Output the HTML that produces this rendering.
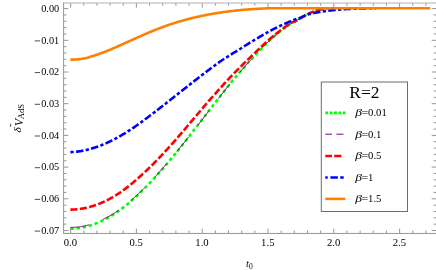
<!DOCTYPE html>
<html><head><meta charset="utf-8"><title>plot</title>
<style>
html,body{margin:0;padding:0;background:#fff;}
body{width:436px;height:270px;overflow:hidden;font-family:"Liberation Serif",serif;}
svg{display:block;will-change:transform;}
text{font-family:"Liberation Serif",serif;fill:#000;}
</style></head><body>
<svg width="436" height="270" viewBox="0 0 436 270">
<rect x="0" y="0" width="436" height="270" fill="#fff"/>
<defs><clipPath id="c"><rect x="63.6" y="3.0" width="372.7" height="230.3"/></clipPath></defs>
<g clip-path="url(#c)" fill="none" stroke-linecap="butt" stroke-linejoin="round">
<path d="M70.40,228.66 L71.05,228.65 L71.70,228.64 L72.34,228.62 L72.99,228.60 L73.64,228.58 L74.29,228.54 L74.94,228.50 L75.58,228.45 L76.23,228.39 L76.88,228.33 L77.53,228.27 L78.18,228.19 L78.83,228.11 L79.47,228.03 L80.12,227.93 L80.77,227.82 L81.42,227.70 L82.07,227.58 L82.71,227.45 L83.36,227.32 L84.01,227.17 L84.66,227.03 L85.31,226.87 L85.95,226.71 L86.60,226.55 L87.25,226.37 L87.90,226.20 L88.55,226.01 L89.20,225.82 L89.84,225.62 L90.49,225.42 L91.14,225.21 L91.79,225.00 L92.44,224.78 L93.08,224.55 L93.73,224.31 L94.38,224.07 L95.03,223.83 L95.68,223.58 L96.32,223.32 L96.97,223.05 L97.62,222.79 L98.27,222.51 L98.92,222.23 L99.57,221.94 L100.21,221.65 L100.86,221.36 L101.51,221.06 L102.16,220.76 L102.81,220.45 L103.45,220.13 L104.10,219.81 L104.75,219.48 L105.40,219.15 L106.05,218.81 L106.69,218.47 L107.34,218.11 L107.99,217.76 L108.64,217.39 L109.29,217.02 L109.94,216.65 L110.58,216.27 L111.23,215.88 L111.88,215.48 L112.53,215.08 L113.18,214.68 L113.82,214.27 L114.47,213.85 L115.12,213.42 L115.77,213.00 L116.42,212.56 L117.06,212.12 L117.71,211.67 L118.36,211.22 L119.01,210.76 L119.66,210.29 L120.31,209.82 L120.95,209.34 L121.60,208.85 L122.25,208.36 L122.90,207.86 L123.55,207.35 L124.19,206.84 L124.84,206.33 L125.49,205.81 L126.14,205.28 L126.79,204.75 L127.43,204.21 L128.08,203.67 L128.73,203.13 L129.38,202.57 L130.03,202.02 L130.68,201.46 L131.32,200.89 L131.97,200.32 L132.62,199.74 L133.27,199.16 L133.92,198.58 L134.56,197.98 L135.21,197.39 L135.86,196.79 L136.51,196.19 L137.16,195.58 L137.80,194.96 L138.45,194.34 L139.10,193.72 L139.75,193.10 L140.40,192.47 L141.05,191.84 L141.69,191.21 L142.34,190.58 L142.99,189.94 L143.64,189.30 L144.29,188.65 L144.93,188.00 L145.58,187.35 L146.23,186.69 L146.88,186.03 L147.53,185.36 L148.17,184.69 L148.82,184.01 L149.47,183.34 L150.12,182.65 L150.77,181.97 L151.42,181.28 L152.06,180.59 L152.71,179.89 L153.36,179.19 L154.01,178.49 L154.66,177.78 L155.30,177.07 L155.95,176.36 L156.60,175.64 L157.25,174.92 L157.90,174.20 L158.54,173.48 L159.19,172.75 L159.84,172.01 L160.49,171.28 L161.14,170.54 L161.78,169.80 L162.43,169.05 L163.08,168.31 L163.73,167.56 L164.38,166.81 L165.03,166.05 L165.67,165.29 L166.32,164.53 L166.97,163.77 L167.62,163.00 L168.27,162.23 L168.91,161.46 L169.56,160.69 L170.21,159.91 L170.86,159.14 L171.51,158.36 L172.15,157.57 L172.80,156.79 L173.45,156.00 L174.10,155.21 L174.75,154.42 L175.40,153.63 L176.04,152.83 L176.69,152.03 L177.34,151.23 L177.99,150.43 L178.64,149.63 L179.28,148.83 L179.93,148.02 L180.58,147.21 L181.23,146.40 L181.88,145.59 L182.52,144.77 L183.17,143.96 L183.82,143.14 L184.47,142.33 L185.12,141.51 L185.77,140.69 L186.41,139.86 L187.06,139.04 L187.71,138.22 L188.36,137.39 L189.01,136.56 L189.65,135.73 L190.30,134.91 L190.95,134.08 L191.60,133.24 L192.25,132.41 L192.89,131.58 L193.54,130.74 L194.19,129.91 L194.84,129.07 L195.49,128.24 L196.14,127.40 L196.78,126.56 L197.43,125.72 L198.08,124.89 L198.73,124.05 L199.38,123.21 L200.02,122.37 L200.67,121.52 L201.32,120.68 L201.97,119.84 L202.62,119.00 L203.26,118.16 L203.91,117.32 L204.56,116.47 L205.21,115.63 L205.86,114.79 L206.51,113.95 L207.15,113.11 L207.80,112.26 L208.45,111.42 L209.10,110.58 L209.75,109.74 L210.39,108.90 L211.04,108.06 L211.69,107.22 L212.34,106.38 L212.99,105.54 L213.63,104.70 L214.28,103.86 L214.93,103.03 L215.58,102.19 L216.23,101.35 L216.88,100.52 L217.52,99.68 L218.17,98.85 L218.82,98.02 L219.47,97.19 L220.12,96.36 L220.76,95.53 L221.41,94.70 L222.06,93.88 L222.71,93.05 L223.36,92.23 L224.00,91.40 L224.65,90.58 L225.30,89.76 L225.95,88.94 L226.60,88.13 L227.25,87.31 L227.89,86.50 L228.54,85.69 L229.19,84.88 L229.84,84.07 L230.49,83.28 L231.13,82.49 L231.78,81.71 L232.43,80.93 L233.08,80.16 L233.73,79.38 L234.37,78.61 L235.02,77.83 L235.67,77.07 L236.32,76.30 L236.97,75.53 L237.62,74.77 L238.26,74.01 L238.91,73.26 L239.56,72.50 L240.21,71.75 L240.86,71.00 L241.50,70.25 L242.15,69.51 L242.80,68.77 L243.45,68.03 L244.10,67.29 L244.74,66.56 L245.39,65.83 L246.04,65.10 L246.69,64.38 L247.34,63.66 L247.98,62.94 L248.63,62.23 L249.28,61.51 L249.93,60.81 L250.58,60.10 L251.23,59.40 L251.87,58.70 L252.52,58.01 L253.17,57.32 L253.82,56.63 L254.47,55.95 L255.11,55.26 L255.76,54.56 L256.41,53.85 L257.06,53.15 L257.71,52.46 L258.35,51.76 L259.00,51.08 L259.65,50.39 L260.30,49.71 L260.95,49.04 L261.60,48.36 L262.24,47.70 L262.89,47.03 L263.54,46.37 L264.19,45.72 L264.84,45.07 L265.48,44.42 L266.13,43.78 L266.78,43.15 L267.43,42.52 L268.08,41.91 L268.72,41.31 L269.37,40.70 L270.02,40.11 L270.67,39.51 L271.32,38.93 L271.97,38.34 L272.61,37.77 L273.26,37.19 L273.91,36.62 L274.56,36.06 L275.21,35.51 L275.85,34.95 L276.50,34.41 L277.15,33.87 L277.80,33.33 L278.45,32.80 L279.09,32.27 L279.74,31.75 L280.39,31.23 L281.04,30.70 L281.69,30.18 L282.34,29.66 L282.98,29.15 L283.63,28.65 L284.28,28.15 L284.93,27.66 L285.58,27.17 L286.22,26.69 L286.87,26.22 L287.52,25.75 L288.17,25.29 L288.82,24.83 L289.46,24.38 L290.11,23.92 L290.76,23.45 L291.41,23.00 L292.06,22.61 L292.71,22.28 L293.35,22.02 L294.00,21.78 L294.65,21.54 L295.30,21.24 L295.95,20.91 L296.59,20.55 L297.24,20.18 L297.89,19.78 L298.54,19.39 L299.19,18.99 L299.83,18.61 L300.48,18.23 L301.13,17.85 L301.78,17.46 L302.43,17.07 L303.08,16.68 L303.72,16.29 L304.37,15.91 L305.02,15.53 L305.67,15.16 L306.32,14.81 L306.96,14.47 L307.61,14.15 L308.26,13.83 L308.91,13.52 L309.56,13.22 L310.20,12.93 L310.85,12.64 L311.50,12.37 L312.15,12.10 L312.80,11.84 L313.45,11.60 L314.09,11.36 L314.74,11.14 L315.39,10.93 L316.04,10.72 L316.69,10.52 L317.33,10.33 L317.98,10.14 L318.63,9.96 L319.28,9.78 L319.93,9.59 L320.57,9.42 L321.22,9.24 L321.87,9.07 L322.52,8.91 L323.17,8.76 L323.82,8.63 L324.46,8.52 L325.11,8.40 L325.76,8.30 L326.41,8.22 L327.06,8.20 L327.70,8.20 L328.35,8.20 L329.00,8.20" stroke="#00ff00" stroke-width="2.6" stroke-dasharray="3.4 2.8"/>
<path d="M70.40,227.36 L71.05,227.36 L71.70,227.35 L72.34,227.34 L72.99,227.33 L73.64,227.31 L74.29,227.28 L74.94,227.24 L75.58,227.20 L76.23,227.15 L76.88,227.10 L77.53,227.04 L78.18,226.97 L78.83,226.89 L79.47,226.82 L80.12,226.73 L80.77,226.62 L81.42,226.51 L82.07,226.40 L82.71,226.27 L83.36,226.14 L84.01,226.01 L84.66,225.87 L85.31,225.72 L85.95,225.57 L86.60,225.41 L87.25,225.24 L87.90,225.07 L88.55,224.89 L89.20,224.71 L89.84,224.52 L90.49,224.32 L91.14,224.12 L91.79,223.91 L92.44,223.69 L93.08,223.47 L93.73,223.24 L94.38,223.01 L95.03,222.77 L95.68,222.53 L96.32,222.27 L96.97,222.02 L97.62,221.75 L98.27,221.48 L98.92,221.21 L99.57,220.93 L100.21,220.64 L100.86,220.36 L101.51,220.07 L102.16,219.77 L102.81,219.47 L103.45,219.16 L104.10,218.84 L104.75,218.52 L105.40,218.20 L106.05,217.86 L106.69,217.52 L107.34,217.18 L107.99,216.83 L108.64,216.47 L109.29,216.11 L109.94,215.74 L110.58,215.36 L111.23,214.98 L111.88,214.59 L112.53,214.20 L113.18,213.80 L113.82,213.39 L114.47,212.98 L115.12,212.57 L115.77,212.14 L116.42,211.71 L117.06,211.28 L117.71,210.84 L118.36,210.39 L119.01,209.94 L119.66,209.48 L120.31,209.01 L120.95,208.54 L121.60,208.05 L122.25,207.57 L122.90,207.08 L123.55,206.58 L124.19,206.07 L124.84,205.56 L125.49,205.05 L126.14,204.53 L126.79,204.01 L127.43,203.48 L128.08,202.94 L128.73,202.40 L129.38,201.86 L130.03,201.31 L130.68,200.75 L131.32,200.19 L131.97,199.63 L132.62,199.06 L133.27,198.48 L133.92,197.90 L134.56,197.32 L135.21,196.73 L135.86,196.14 L136.51,195.54 L137.16,194.93 L137.80,194.33 L138.45,193.72 L139.10,193.10 L139.75,192.48 L140.40,191.86 L141.05,191.24 L141.69,190.62 L142.34,189.99 L142.99,189.36 L143.64,188.72 L144.29,188.08 L144.93,187.44 L145.58,186.79 L146.23,186.14 L146.88,185.48 L147.53,184.82 L148.17,184.16 L148.82,183.49 L149.47,182.82 L150.12,182.14 L150.77,181.46 L151.42,180.78 L152.06,180.09 L152.71,179.40 L153.36,178.71 L154.01,178.01 L154.66,177.31 L155.30,176.61 L155.95,175.90 L156.60,175.19 L157.25,174.48 L157.90,173.76 L158.54,173.04 L159.19,172.32 L159.84,171.60 L160.49,170.87 L161.14,170.14 L161.78,169.40 L162.43,168.66 L163.08,167.92 L163.73,167.18 L164.38,166.43 L165.03,165.68 L165.67,164.93 L166.32,164.18 L166.97,163.42 L167.62,162.66 L168.27,161.90 L168.91,161.13 L169.56,160.37 L170.21,159.60 L170.86,158.83 L171.51,158.05 L172.15,157.28 L172.80,156.50 L173.45,155.72 L174.10,154.93 L174.75,154.15 L175.40,153.36 L176.04,152.57 L176.69,151.78 L177.34,150.99 L177.99,150.19 L178.64,149.40 L179.28,148.60 L179.93,147.80 L180.58,147.00 L181.23,146.19 L181.88,145.39 L182.52,144.58 L183.17,143.77 L183.82,142.96 L184.47,142.15 L185.12,141.34 L185.77,140.52 L186.41,139.71 L187.06,138.89 L187.71,138.07 L188.36,137.25 L189.01,136.43 L189.65,135.61 L190.30,134.79 L190.95,133.96 L191.60,133.14 L192.25,132.31 L192.89,131.49 L193.54,130.66 L194.19,129.83 L194.84,129.00 L195.49,128.17 L196.14,127.34 L196.78,126.51 L197.43,125.68 L198.08,124.84 L198.73,124.01 L199.38,123.18 L200.02,122.34 L200.67,121.51 L201.32,120.67 L201.97,119.84 L202.62,119.00 L203.26,118.16 L203.91,117.32 L204.56,116.47 L205.21,115.63 L205.86,114.79 L206.51,113.95 L207.15,113.11 L207.80,112.26 L208.45,111.42 L209.10,110.58 L209.75,109.74 L210.39,108.90 L211.04,108.06 L211.69,107.22 L212.34,106.38 L212.99,105.54 L213.63,104.70 L214.28,103.86 L214.93,103.03 L215.58,102.19 L216.23,101.35 L216.88,100.52 L217.52,99.68 L218.17,98.85 L218.82,98.02 L219.47,97.19 L220.12,96.36 L220.76,95.53 L221.41,94.70 L222.06,93.88 L222.71,93.05 L223.36,92.23 L224.00,91.40 L224.65,90.58 L225.30,89.76 L225.95,88.94 L226.60,88.13 L227.25,87.31 L227.89,86.50 L228.54,85.69 L229.19,84.88 L229.84,84.07 L230.49,83.28 L231.13,82.49 L231.78,81.71 L232.43,80.93 L233.08,80.16 L233.73,79.38 L234.37,78.61 L235.02,77.83 L235.67,77.07 L236.32,76.30 L236.97,75.53 L237.62,74.77 L238.26,74.01 L238.91,73.26 L239.56,72.50 L240.21,71.75 L240.86,71.00 L241.50,70.25 L242.15,69.51 L242.80,68.77 L243.45,68.03 L244.10,67.29 L244.74,66.56 L245.39,65.83 L246.04,65.10 L246.69,64.38 L247.34,63.66 L247.98,62.94 L248.63,62.23 L249.28,61.51 L249.93,60.81 L250.58,60.10 L251.23,59.40 L251.87,58.70 L252.52,58.01 L253.17,57.32 L253.82,56.63 L254.47,55.95 L255.11,55.26 L255.76,54.56 L256.41,53.85 L257.06,53.15 L257.71,52.46 L258.35,51.76 L259.00,51.08 L259.65,50.39 L260.30,49.71 L260.95,49.04 L261.60,48.36 L262.24,47.70 L262.89,47.03 L263.54,46.37 L264.19,45.72 L264.84,45.07 L265.48,44.42 L266.13,43.78 L266.78,43.15 L267.43,42.52 L268.08,41.91 L268.72,41.31 L269.37,40.70 L270.02,40.11 L270.67,39.51 L271.32,38.93 L271.97,38.34 L272.61,37.77 L273.26,37.19 L273.91,36.62 L274.56,36.06 L275.21,35.51 L275.85,34.95 L276.50,34.41 L277.15,33.87 L277.80,33.33 L278.45,32.80 L279.09,32.27 L279.74,31.75 L280.39,31.23 L281.04,30.70 L281.69,30.18 L282.34,29.66 L282.98,29.15 L283.63,28.65 L284.28,28.15 L284.93,27.66 L285.58,27.17 L286.22,26.69 L286.87,26.22 L287.52,25.75 L288.17,25.29 L288.82,24.83 L289.46,24.38 L290.11,23.92 L290.76,23.45 L291.41,23.00 L292.06,22.61 L292.71,22.28 L293.35,22.02 L294.00,21.78 L294.65,21.54 L295.30,21.24 L295.95,20.91 L296.59,20.55 L297.24,20.18 L297.89,19.78 L298.54,19.39 L299.19,18.99 L299.83,18.61 L300.48,18.23 L301.13,17.85 L301.78,17.46 L302.43,17.07 L303.08,16.68 L303.72,16.29 L304.37,15.91 L305.02,15.53 L305.67,15.16 L306.32,14.81 L306.96,14.47 L307.61,14.15 L308.26,13.83 L308.91,13.52 L309.56,13.22 L310.20,12.93 L310.85,12.64 L311.50,12.37 L312.15,12.10 L312.80,11.84 L313.45,11.60 L314.09,11.36 L314.74,11.14 L315.39,10.93 L316.04,10.72 L316.69,10.52 L317.33,10.33 L317.98,10.14 L318.63,9.96 L319.28,9.78 L319.93,9.59 L320.57,9.42 L321.22,9.24 L321.87,9.07 L322.52,8.91 L323.17,8.76 L323.82,8.63 L324.46,8.52 L325.11,8.40 L325.76,8.30 L326.41,8.22 L327.06,8.20 L327.70,8.20 L328.35,8.20 L329.00,8.20" stroke="#7a007a" stroke-width="1.0" stroke-dasharray="18.7 15"/>
<path d="M70.40,209.62 L71.05,209.61 L71.70,209.60 L72.34,209.58 L72.99,209.56 L73.64,209.53 L74.29,209.50 L74.94,209.46 L75.58,209.41 L76.23,209.36 L76.88,209.30 L77.53,209.24 L78.18,209.16 L78.83,209.09 L79.47,209.01 L80.12,208.92 L80.77,208.83 L81.42,208.73 L82.07,208.62 L82.71,208.51 L83.36,208.39 L84.01,208.27 L84.66,208.14 L85.31,208.01 L85.95,207.87 L86.60,207.73 L87.25,207.57 L87.90,207.42 L88.55,207.26 L89.20,207.09 L89.84,206.91 L90.49,206.73 L91.14,206.55 L91.79,206.36 L92.44,206.16 L93.08,205.96 L93.73,205.75 L94.38,205.54 L95.03,205.32 L95.68,205.09 L96.32,204.86 L96.97,204.63 L97.62,204.38 L98.27,204.14 L98.92,203.88 L99.57,203.62 L100.21,203.36 L100.86,203.09 L101.51,202.81 L102.16,202.53 L102.81,202.24 L103.45,201.95 L104.10,201.65 L104.75,201.35 L105.40,201.04 L106.05,200.73 L106.69,200.41 L107.34,200.08 L107.99,199.75 L108.64,199.41 L109.29,199.07 L109.94,198.72 L110.58,198.37 L111.23,198.01 L111.88,197.64 L112.53,197.27 L113.18,196.90 L113.82,196.51 L114.47,196.13 L115.12,195.73 L115.77,195.34 L116.42,194.93 L117.06,194.52 L117.71,194.11 L118.36,193.69 L119.01,193.27 L119.66,192.84 L120.31,192.40 L120.95,191.94 L121.60,191.48 L122.25,191.02 L122.90,190.55 L123.55,190.08 L124.19,189.60 L124.84,189.12 L125.49,188.63 L126.14,188.14 L126.79,187.64 L127.43,187.14 L128.08,186.63 L128.73,186.12 L129.38,185.60 L130.03,185.08 L130.68,184.56 L131.32,184.03 L131.97,183.49 L132.62,182.95 L133.27,182.41 L133.92,181.86 L134.56,181.31 L135.21,180.75 L135.86,180.19 L136.51,179.63 L137.16,179.06 L137.80,178.48 L138.45,177.90 L139.10,177.32 L139.75,176.74 L140.40,176.16 L141.05,175.57 L141.69,174.99 L142.34,174.40 L142.99,173.81 L143.64,173.21 L144.29,172.61 L144.93,172.01 L145.58,171.40 L146.23,170.79 L146.88,170.17 L147.53,169.56 L148.17,168.93 L148.82,168.31 L149.47,167.68 L150.12,167.05 L150.77,166.41 L151.42,165.77 L152.06,165.13 L152.71,164.48 L153.36,163.84 L154.01,163.18 L154.66,162.53 L155.30,161.87 L155.95,161.21 L156.60,160.55 L157.25,159.88 L157.90,159.21 L158.54,158.54 L159.19,157.86 L159.84,157.18 L160.49,156.50 L161.14,155.82 L161.78,155.13 L162.43,154.44 L163.08,153.75 L163.73,153.05 L164.38,152.35 L165.03,151.65 L165.67,150.95 L166.32,150.24 L166.97,149.53 L167.62,148.82 L168.27,148.10 L168.91,147.38 L169.56,146.66 L170.21,145.94 L170.86,145.22 L171.51,144.49 L172.15,143.76 L172.80,143.03 L173.45,142.29 L174.10,141.56 L174.75,140.82 L175.40,140.08 L176.04,139.34 L176.69,138.59 L177.34,137.85 L177.99,137.10 L178.64,136.35 L179.28,135.60 L179.93,134.85 L180.58,134.10 L181.23,133.34 L181.88,132.59 L182.52,131.83 L183.17,131.07 L183.82,130.31 L184.47,129.55 L185.12,128.79 L185.77,128.03 L186.41,127.27 L187.06,126.51 L187.71,125.75 L188.36,124.98 L189.01,124.22 L189.65,123.45 L190.30,122.69 L190.95,121.93 L191.60,121.16 L192.25,120.40 L192.89,119.63 L193.54,118.87 L194.19,118.10 L194.84,117.34 L195.49,116.57 L196.14,115.81 L196.78,115.05 L197.43,114.28 L198.08,113.52 L198.73,112.76 L199.38,112.00 L200.02,111.24 L200.67,110.48 L201.32,109.72 L201.97,108.96 L202.62,108.21 L203.26,107.45 L203.91,106.70 L204.56,105.94 L205.21,105.19 L205.86,104.44 L206.51,103.69 L207.15,102.94 L207.80,102.19 L208.45,101.44 L209.10,100.70 L209.75,99.95 L210.39,99.21 L211.04,98.47 L211.69,97.73 L212.34,96.99 L212.99,96.25 L213.63,95.51 L214.28,94.78 L214.93,94.05 L215.58,93.32 L216.23,92.59 L216.88,91.86 L217.52,91.13 L218.17,90.41 L218.82,89.68 L219.47,88.96 L220.12,88.24 L220.76,87.53 L221.41,86.81 L222.06,86.09 L222.71,85.38 L223.36,84.67 L224.00,83.96 L224.65,83.25 L225.30,82.54 L225.95,81.84 L226.60,81.14 L227.25,80.44 L227.89,79.74 L228.54,79.04 L229.19,78.34 L229.84,77.65 L230.49,76.97 L231.13,76.30 L231.78,75.63 L232.43,74.96 L233.08,74.30 L233.73,73.63 L234.37,72.97 L235.02,72.31 L235.67,71.65 L236.32,71.00 L236.97,70.34 L237.62,69.69 L238.26,69.04 L238.91,68.39 L239.56,67.74 L240.21,67.10 L240.86,66.45 L241.50,65.81 L242.15,65.17 L242.80,64.53 L243.45,63.90 L244.10,63.26 L244.74,62.63 L245.39,62.00 L246.04,61.37 L246.69,60.74 L247.34,60.11 L247.98,59.49 L248.63,58.87 L249.28,58.25 L249.93,57.63 L250.58,57.01 L251.23,56.40 L251.87,55.79 L252.52,55.18 L253.17,54.57 L253.82,53.96 L254.47,53.36 L255.11,52.75 L255.76,52.12 L256.41,51.49 L257.06,50.86 L257.71,50.23 L258.35,49.61 L259.00,48.98 L259.65,48.36 L260.30,47.74 L260.95,47.13 L261.60,46.51 L262.24,45.90 L262.89,45.29 L263.54,44.68 L264.19,44.08 L264.84,43.47 L265.48,42.87 L266.13,42.28 L266.78,41.68 L267.43,41.11 L268.08,40.53 L268.72,39.97 L269.37,39.40 L270.02,38.84 L270.67,38.29 L271.32,37.74 L271.97,37.19 L272.61,36.64 L273.26,36.11 L273.91,35.57 L274.56,35.04 L275.21,34.52 L275.85,34.00 L276.50,33.48 L277.15,32.97 L277.80,32.47 L278.45,31.97 L279.09,31.47 L279.74,30.98 L280.39,30.49 L281.04,29.99 L281.69,29.50 L282.34,29.02 L282.98,28.54 L283.63,28.07 L284.28,27.60 L284.93,27.14 L285.58,26.69 L286.22,26.24 L286.87,25.80 L287.52,25.36 L288.17,24.93 L288.82,24.50 L289.46,24.08 L290.11,23.64 L290.76,23.19 L291.41,22.77 L292.06,22.40 L292.71,22.12 L293.35,21.90 L294.00,21.72 L294.65,21.52 L295.30,21.26 L295.95,20.95 L296.59,20.60 L297.24,20.21 L297.89,19.81 L298.54,19.40 L299.19,19.00 L299.83,18.61 L300.48,18.23 L301.13,17.85 L301.78,17.46 L302.43,17.07 L303.08,16.68 L303.72,16.29 L304.37,15.91 L305.02,15.53 L305.67,15.16 L306.32,14.81 L306.96,14.47 L307.61,14.15 L308.26,13.83 L308.91,13.52 L309.56,13.22 L310.20,12.93 L310.85,12.64 L311.50,12.37 L312.15,12.10 L312.80,11.84 L313.45,11.60 L314.09,11.36 L314.74,11.14 L315.39,10.93 L316.04,10.72 L316.69,10.52 L317.33,10.33 L317.98,10.14 L318.63,9.96 L319.28,9.78 L319.93,9.59 L320.57,9.42 L321.22,9.24 L321.87,9.07 L322.52,8.91 L323.17,8.76 L323.82,8.63 L324.46,8.52 L325.11,8.40 L325.76,8.30 L326.41,8.22 L327.06,8.20 L327.70,8.20 L328.35,8.20 L329.00,8.20" stroke="#ff0000" stroke-width="2.6" stroke-dasharray="7.1 2.4"/>
<path d="M70.40,152.12 L71.17,152.09 L71.93,152.05 L72.70,152.01 L73.46,151.96 L74.23,151.90 L75.00,151.83 L75.76,151.76 L76.53,151.68 L77.29,151.59 L78.06,151.49 L78.83,151.39 L79.59,151.28 L80.36,151.16 L81.12,151.03 L81.89,150.90 L82.65,150.76 L83.42,150.61 L84.19,150.46 L84.95,150.29 L85.72,150.13 L86.48,149.95 L87.25,149.77 L88.02,149.58 L88.78,149.38 L89.55,149.18 L90.31,148.97 L91.08,148.75 L91.85,148.53 L92.61,148.30 L93.38,148.06 L94.14,147.82 L94.91,147.57 L95.68,147.31 L96.44,147.05 L97.21,146.78 L97.97,146.51 L98.74,146.23 L99.50,145.94 L100.27,145.65 L101.04,145.35 L101.80,145.04 L102.57,144.73 L103.33,144.41 L104.10,144.09 L104.87,143.76 L105.63,143.43 L106.40,143.09 L107.16,142.74 L107.93,142.39 L108.70,142.03 L109.46,141.67 L110.23,141.30 L110.99,140.93 L111.76,140.55 L112.53,140.16 L113.29,139.77 L114.06,139.38 L114.82,138.98 L115.59,138.57 L116.35,138.16 L117.12,137.75 L117.89,137.32 L118.65,136.90 L119.42,136.47 L120.18,136.03 L120.95,135.59 L121.72,135.15 L122.48,134.70 L123.25,134.24 L124.01,133.78 L124.78,133.32 L125.55,132.85 L126.31,132.38 L127.08,131.91 L127.84,131.42 L128.61,130.94 L129.38,130.45 L130.14,129.96 L130.91,129.44 L131.67,128.93 L132.44,128.41 L133.21,127.89 L133.97,127.36 L134.74,126.83 L135.50,126.29 L136.27,125.76 L137.03,125.22 L137.80,124.67 L138.57,124.12 L139.33,123.57 L140.10,123.02 L140.86,122.46 L141.63,121.90 L142.40,121.34 L143.16,120.78 L143.93,120.21 L144.69,119.64 L145.46,119.06 L146.23,118.49 L146.99,117.91 L147.76,117.33 L148.52,116.75 L149.29,116.16 L150.06,115.58 L150.82,115.00 L151.59,114.43 L152.35,113.85 L153.12,113.27 L153.88,112.69 L154.65,112.10 L155.42,111.52 L156.18,110.93 L156.95,110.34 L157.71,109.75 L158.48,109.16 L159.25,108.57 L160.01,107.98 L160.78,107.38 L161.54,106.79 L162.31,106.19 L163.08,105.59 L163.84,104.99 L164.61,104.39 L165.37,103.79 L166.14,103.19 L166.91,102.59 L167.67,101.99 L168.44,101.39 L169.20,100.78 L169.97,100.18 L170.73,99.58 L171.50,98.97 L172.27,98.37 L173.03,97.76 L173.80,97.16 L174.56,96.55 L175.33,95.95 L176.10,95.35 L176.86,94.74 L177.63,94.14 L178.39,93.53 L179.16,92.93 L179.93,92.32 L180.69,91.72 L181.46,91.11 L182.22,90.51 L182.99,89.91 L183.76,89.30 L184.52,88.70 L185.29,88.10 L186.05,87.49 L186.82,86.89 L187.58,86.29 L188.35,85.69 L189.12,85.09 L189.88,84.49 L190.65,83.89 L191.41,83.29 L192.18,82.69 L192.95,82.09 L193.71,81.50 L194.48,80.90 L195.24,80.30 L196.01,79.71 L196.78,79.12 L197.54,78.52 L198.31,77.93 L199.07,77.34 L199.84,76.75 L200.61,76.16 L201.37,75.57 L202.14,74.98 L202.90,74.39 L203.67,73.81 L204.44,73.22 L205.20,72.64 L205.97,72.06 L206.73,71.48 L207.50,70.90 L208.26,70.32 L209.03,69.74 L209.80,69.17 L210.56,68.59 L211.33,68.02 L212.09,67.45 L212.86,66.88 L213.63,66.31 L214.39,65.74 L215.16,65.17 L215.92,64.61 L216.69,64.05 L217.46,63.49 L218.22,62.93 L218.99,62.37 L219.75,61.81 L220.52,61.29 L221.29,60.78 L222.05,60.28 L222.82,59.78 L223.58,59.28 L224.35,58.78 L225.11,58.28 L225.88,57.78 L226.65,57.29 L227.41,56.80 L228.18,56.31 L228.94,55.83 L229.71,55.34 L230.48,54.86 L231.24,54.38 L232.01,53.90 L232.77,53.42 L233.54,52.95 L234.31,52.48 L235.07,52.01 L235.84,51.54 L236.60,51.08 L237.37,50.61 L238.14,50.15 L238.90,49.70 L239.67,49.24 L240.43,48.76 L241.20,48.25 L241.96,47.75 L242.73,47.25 L243.50,46.76 L244.26,46.26 L245.03,45.77 L245.79,45.28 L246.56,44.79 L247.33,44.31 L248.09,43.83 L248.86,43.35 L249.62,42.87 L250.39,42.40 L251.16,41.93 L251.92,41.46 L252.69,40.99 L253.45,40.53 L254.22,40.07 L254.99,39.61 L255.75,39.16 L256.52,38.71 L257.28,38.26 L258.05,37.81 L258.82,37.37 L259.58,36.93 L260.35,36.48 L261.11,36.03 L261.88,35.58 L262.64,35.13 L263.41,34.69 L264.18,34.25 L264.94,33.81 L265.71,33.38 L266.47,32.94 L267.24,32.52 L268.01,32.09 L268.77,31.67 L269.54,31.25 L270.30,30.83 L271.07,30.42 L271.84,30.01 L272.60,29.61 L273.37,29.20 L274.13,28.80 L274.90,28.41 L275.67,28.02 L276.43,27.64 L277.20,27.27 L277.96,26.89 L278.73,26.52 L279.49,26.16 L280.26,25.80 L281.03,25.44 L281.79,25.08 L282.56,24.73 L283.32,24.38 L284.09,24.03 L284.86,23.69 L285.62,23.35 L286.39,23.02 L287.15,22.69 L287.92,22.36 L288.69,22.04 L289.45,21.72 L290.22,21.40 L290.98,21.09 L291.75,20.78 L292.52,20.47 L293.28,20.17 L294.05,19.87 L294.81,19.58 L295.58,19.30 L296.34,19.05 L297.11,18.80 L297.88,18.57 L298.64,18.32 L299.41,18.07 L300.17,17.79 L300.94,17.48 L301.71,17.15 L302.47,16.79 L303.24,16.43 L304.00,16.06 L304.77,15.70 L305.54,15.35 L306.30,15.03 L307.07,14.74 L307.83,14.50 L308.60,14.27 L309.37,14.07 L310.13,13.87 L310.90,13.68 L311.66,13.50 L312.43,13.33 L313.19,13.17 L313.96,13.01 L314.73,12.85 L315.49,12.70 L316.26,12.55 L317.02,12.41 L317.79,12.28 L318.56,12.14 L319.32,12.01 L320.09,11.89 L320.85,11.77 L321.62,11.65 L322.39,11.54 L323.15,11.43 L323.92,11.32 L324.68,11.22 L325.45,11.12 L326.22,11.02 L326.98,10.93 L327.75,10.83 L328.51,10.74 L329.28,10.64 L330.05,10.55 L330.81,10.46 L331.58,10.37 L332.34,10.28 L333.11,10.20 L333.87,10.11 L334.64,10.04 L335.41,9.96 L336.17,9.89 L336.94,9.82 L337.70,9.75 L338.47,9.68 L339.24,9.62 L340.00,9.55 L340.77,9.49 L341.53,9.43 L342.30,9.38 L343.07,9.32 L343.83,9.27 L344.60,9.22 L345.36,9.17 L346.13,9.12 L346.90,9.07 L347.66,9.03 L348.43,8.99 L349.19,8.95 L349.96,8.91 L350.72,8.88 L351.49,8.84 L352.26,8.81 L353.02,8.78 L353.79,8.75 L354.55,8.72 L355.32,8.69 L356.09,8.66 L356.85,8.63 L357.62,8.60 L358.38,8.57 L359.15,8.54 L359.92,8.52 L360.68,8.49 L361.45,8.47 L362.21,8.44 L362.98,8.42 L363.75,8.40 L364.51,8.38 L365.28,8.36 L366.04,8.34 L366.81,8.33 L367.57,8.31 L368.34,8.29 L369.11,8.27 L369.87,8.25 L370.64,8.23 L371.40,8.22 L372.17,8.20 L372.94,8.20 L373.70,8.20 L374.47,8.20 L375.23,8.20 L376.00,8.20" stroke="#0000ff" stroke-width="2.6" stroke-dasharray="3.3 2.3 7.5 2.3"/>
<path d="M70.40,59.68 L71.30,59.67 L72.20,59.65 L73.10,59.62 L74.01,59.59 L74.91,59.54 L75.81,59.48 L76.71,59.42 L77.61,59.34 L78.51,59.25 L79.42,59.15 L80.32,59.04 L81.22,58.92 L82.12,58.79 L83.02,58.65 L83.92,58.49 L84.82,58.33 L85.73,58.12 L86.63,57.89 L87.53,57.65 L88.43,57.40 L89.33,57.14 L90.23,56.87 L91.13,56.59 L92.04,56.30 L92.94,56.00 L93.84,55.70 L94.74,55.38 L95.64,55.09 L96.54,54.80 L97.45,54.51 L98.35,54.20 L99.25,53.89 L100.15,53.58 L101.05,53.26 L101.95,52.93 L102.85,52.59 L103.76,52.25 L104.66,51.90 L105.56,51.55 L106.46,51.19 L107.36,50.83 L108.26,50.46 L109.16,50.09 L110.07,49.71 L110.97,49.33 L111.87,48.95 L112.77,48.56 L113.67,48.17 L114.57,47.78 L115.48,47.38 L116.38,46.99 L117.28,46.59 L118.18,46.19 L119.08,45.79 L119.98,45.38 L120.88,44.98 L121.79,44.57 L122.69,44.17 L123.59,43.76 L124.49,43.35 L125.39,42.95 L126.29,42.54 L127.19,42.13 L128.10,41.72 L129.00,41.32 L129.90,40.91 L130.80,40.50 L131.70,40.09 L132.60,39.69 L133.51,39.28 L134.41,38.88 L135.31,38.47 L136.21,38.07 L137.11,37.67 L138.01,37.26 L138.91,36.86 L139.82,36.46 L140.72,36.07 L141.62,35.67 L142.52,35.27 L143.42,34.88 L144.32,34.49 L145.22,34.10 L146.13,33.71 L147.03,33.32 L147.93,32.94 L148.83,32.56 L149.73,32.18 L150.63,31.80 L151.54,31.43 L152.44,31.06 L153.34,30.69 L154.24,30.32 L155.14,29.96 L156.04,29.60 L156.94,29.25 L157.85,28.89 L158.75,28.54 L159.65,28.20 L160.55,27.85 L161.45,27.51 L162.35,27.18 L163.25,26.85 L164.16,26.52 L165.06,26.19 L165.96,25.87 L166.86,25.56 L167.76,25.24 L168.66,24.93 L169.57,24.63 L170.47,24.33 L171.37,24.03 L172.27,23.73 L173.17,23.44 L174.07,23.15 L174.97,22.87 L175.88,22.59 L176.78,22.31 L177.68,22.03 L178.58,21.76 L179.48,21.49 L180.38,21.23 L181.28,20.97 L182.19,20.71 L183.09,20.46 L183.99,20.20 L184.89,19.96 L185.79,19.71 L186.69,19.47 L187.60,19.23 L188.50,19.00 L189.40,18.76 L190.30,18.54 L191.20,18.31 L192.10,18.09 L193.00,17.87 L193.91,17.65 L194.81,17.44 L195.71,17.23 L196.61,17.02 L197.51,16.81 L198.41,16.61 L199.32,16.41 L200.22,16.22 L201.12,16.03 L202.02,15.84 L202.92,15.65 L203.82,15.46 L204.72,15.28 L205.63,15.10 L206.53,14.93 L207.43,14.75 L208.33,14.58 L209.23,14.42 L210.13,14.25 L211.03,14.09 L211.94,13.93 L212.84,13.77 L213.74,13.62 L214.64,13.46 L215.54,13.31 L216.44,13.17 L217.35,13.02 L218.25,12.88 L219.15,12.74 L220.05,12.60 L220.95,12.47 L221.85,12.34 L222.75,12.21 L223.66,12.08 L224.56,11.95 L225.46,11.83 L226.36,11.71 L227.26,11.59 L228.16,11.48 L229.06,11.36 L229.97,11.25 L230.87,11.14 L231.77,11.03 L232.67,10.93 L233.57,10.83 L234.47,10.73 L235.38,10.63 L236.28,10.53 L237.18,10.44 L238.08,10.34 L238.98,10.25 L239.88,10.17 L240.78,10.08 L241.69,10.00 L242.59,9.91 L243.49,9.83 L244.39,9.75 L245.29,9.68 L246.19,9.60 L247.09,9.53 L248.00,9.46 L248.90,9.39 L249.80,9.32 L250.70,9.26 L251.60,9.19 L252.50,9.13 L253.41,9.07 L254.31,9.01 L255.21,8.95 L256.11,8.90 L257.01,8.84 L257.91,8.79 L258.81,8.74 L259.72,8.69 L260.62,8.64 L261.52,8.60 L262.42,8.55 L263.32,8.51 L264.22,8.47 L265.12,8.43 L266.03,8.39 L266.93,8.35 L267.83,8.31 L268.73,8.28 L269.63,8.24 L270.53,8.21 L271.44,8.20 L272.34,8.20 L273.24,8.20 L274.14,8.20 L275.04,8.20 L275.94,8.20 L276.84,8.20 L277.75,8.20 L278.65,8.20 L279.55,8.20 L280.45,8.20 L281.35,8.20 L282.25,8.20 L283.15,8.20 L284.06,8.20 L284.96,8.20 L285.86,8.20 L286.76,8.20 L287.66,8.20 L288.56,8.20 L289.47,8.20 L290.37,8.20 L291.27,8.20 L292.17,8.20 L293.07,8.20 L293.97,8.20 L294.87,8.20 L295.78,8.20 L296.68,8.20 L297.58,8.20 L298.48,8.20 L299.38,8.20 L300.28,8.20 L301.18,8.20 L302.09,8.20 L302.99,8.20 L303.89,8.20 L304.79,8.20 L305.69,8.20 L306.59,8.20 L307.50,8.20 L308.40,8.20 L309.30,8.20 L310.20,8.20 L311.10,8.20 L312.00,8.20 L312.90,8.20 L313.81,8.20 L314.71,8.20 L315.61,8.20 L316.51,8.20 L317.41,8.20 L318.31,8.20 L319.22,8.20 L320.12,8.20 L321.02,8.20 L321.92,8.20 L322.82,8.20 L323.72,8.20 L324.62,8.20 L325.53,8.20 L326.43,8.20 L327.33,8.20 L328.23,8.20 L329.13,8.20 L330.03,8.20 L330.93,8.20 L331.84,8.20 L332.74,8.20 L333.64,8.20 L334.54,8.20 L335.44,8.20 L336.34,8.20 L337.25,8.20 L338.15,8.20 L339.05,8.20 L339.95,8.20 L340.85,8.20 L341.75,8.20 L342.65,8.20 L343.56,8.20 L344.46,8.20 L345.36,8.20 L346.26,8.20 L347.16,8.20 L348.06,8.20 L348.96,8.20 L349.87,8.20 L350.77,8.20 L351.67,8.20 L352.57,8.20 L353.47,8.20 L354.37,8.20 L355.28,8.20 L356.18,8.20 L357.08,8.20 L357.98,8.20 L358.88,8.20 L359.78,8.20 L360.68,8.20 L361.59,8.20 L362.49,8.20 L363.39,8.20 L364.29,8.20 L365.19,8.20 L366.09,8.20 L366.99,8.20 L367.90,8.20 L368.80,8.20 L369.70,8.20 L370.60,8.20 L371.50,8.20 L372.40,8.20 L373.31,8.20 L374.21,8.20 L375.11,8.20 L376.01,8.20 L376.91,8.20 L377.81,8.20 L378.71,8.20 L379.62,8.20 L380.52,8.20 L381.42,8.20 L382.32,8.20 L383.22,8.20 L384.12,8.20 L385.02,8.20 L385.93,8.20 L386.83,8.20 L387.73,8.20 L388.63,8.20 L389.53,8.20 L390.43,8.20 L391.34,8.20 L392.24,8.20 L393.14,8.20 L394.04,8.20 L394.94,8.20 L395.84,8.20 L396.74,8.20 L397.65,8.20 L398.55,8.20 L399.45,8.20 L400.35,8.20 L401.25,8.20 L402.15,8.20 L403.05,8.20 L403.96,8.20 L404.86,8.20 L405.76,8.20 L406.66,8.20 L407.56,8.20 L408.46,8.20 L409.37,8.20 L410.27,8.20 L411.17,8.20 L412.07,8.20 L412.97,8.20 L413.87,8.20 L414.77,8.20 L415.68,8.20 L416.58,8.20 L417.48,8.20 L418.38,8.20 L419.28,8.20 L420.18,8.20 L421.08,8.20 L421.99,8.20 L422.89,8.20 L423.79,8.20 L424.69,8.20 L425.59,8.20 L426.49,8.20 L427.40,8.20 L428.30,8.20 L429.20,8.20 L430.10,8.20" stroke="#ff8000" stroke-width="2.6"/>
</g>
<g stroke="#969696" stroke-width="1" fill="none">
<path d="M63.6,2.5V234 M63.1,233.45H436"/>
<path d="M63.1,3.0H436" stroke="#b2b2b2"/>
</g>
<path d="M70.60,233v-4.3 M70.60,3.3v4.3 M83.76,233v-2.4 M83.76,3.3v2.4 M96.92,233v-2.4 M96.92,3.3v2.4 M110.08,233v-2.4 M110.08,3.3v2.4 M123.24,233v-2.4 M123.24,3.3v2.4 M136.40,233v-4.3 M136.40,3.3v4.3 M149.56,233v-2.4 M149.56,3.3v2.4 M162.72,233v-2.4 M162.72,3.3v2.4 M175.88,233v-2.4 M175.88,3.3v2.4 M189.04,233v-2.4 M189.04,3.3v2.4 M202.20,233v-4.3 M202.20,3.3v4.3 M215.36,233v-2.4 M215.36,3.3v2.4 M228.52,233v-2.4 M228.52,3.3v2.4 M241.68,233v-2.4 M241.68,3.3v2.4 M254.84,233v-2.4 M254.84,3.3v2.4 M268.00,233v-4.3 M268.00,3.3v4.3 M281.16,233v-2.4 M281.16,3.3v2.4 M294.32,233v-2.4 M294.32,3.3v2.4 M307.48,233v-2.4 M307.48,3.3v2.4 M320.64,233v-2.4 M320.64,3.3v2.4 M333.80,233v-4.3 M333.80,3.3v4.3 M346.96,233v-2.4 M346.96,3.3v2.4 M360.12,233v-2.4 M360.12,3.3v2.4 M373.28,233v-2.4 M373.28,3.3v2.4 M386.44,233v-2.4 M386.44,3.3v2.4 M399.60,233v-4.3 M399.60,3.3v4.3 M412.76,233v-2.4 M412.76,3.3v2.4 M425.92,233v-2.4 M425.92,3.3v2.4 M64,8.60h4.3 M436,8.60h-4.3 M64,14.94h2.4 M436,14.94h-2.4 M64,21.28h2.4 M436,21.28h-2.4 M64,27.62h2.4 M436,27.62h-2.4 M64,33.96h2.4 M436,33.96h-2.4 M64,40.30h4.3 M436,40.30h-4.3 M64,46.64h2.4 M436,46.64h-2.4 M64,52.98h2.4 M436,52.98h-2.4 M64,59.32h2.4 M436,59.32h-2.4 M64,65.66h2.4 M436,65.66h-2.4 M64,72.00h4.3 M436,72.00h-4.3 M64,78.34h2.4 M436,78.34h-2.4 M64,84.68h2.4 M436,84.68h-2.4 M64,91.02h2.4 M436,91.02h-2.4 M64,97.36h2.4 M436,97.36h-2.4 M64,103.70h4.3 M436,103.70h-4.3 M64,110.04h2.4 M436,110.04h-2.4 M64,116.38h2.4 M436,116.38h-2.4 M64,122.72h2.4 M436,122.72h-2.4 M64,129.06h2.4 M436,129.06h-2.4 M64,135.40h4.3 M436,135.40h-4.3 M64,141.74h2.4 M436,141.74h-2.4 M64,148.08h2.4 M436,148.08h-2.4 M64,154.42h2.4 M436,154.42h-2.4 M64,160.76h2.4 M436,160.76h-2.4 M64,167.10h4.3 M436,167.10h-4.3 M64,173.44h2.4 M436,173.44h-2.4 M64,179.78h2.4 M436,179.78h-2.4 M64,186.12h2.4 M436,186.12h-2.4 M64,192.46h2.4 M436,192.46h-2.4 M64,198.80h4.3 M436,198.80h-4.3 M64,205.14h2.4 M436,205.14h-2.4 M64,211.48h2.4 M436,211.48h-2.4 M64,217.82h2.4 M436,217.82h-2.4 M64,224.16h2.4 M436,224.16h-2.4 M64,230.50h4.3 M436,230.50h-4.3" stroke="#8a8a8a" stroke-width="0.9" fill="none"/>
<g font-size="10.7">
<text x="70.40" y="246.4" text-anchor="middle">0.0</text>
<text x="136.20" y="246.4" text-anchor="middle">0.5</text>
<text x="202.00" y="246.4" text-anchor="middle">1.0</text>
<text x="267.80" y="246.4" text-anchor="middle">1.5</text>
<text x="333.60" y="246.4" text-anchor="middle">2.0</text>
<text x="399.40" y="246.4" text-anchor="middle">2.5</text>
<text x="59.2" y="11.95" text-anchor="end" font-size="10.3">0.00</text>
<text x="59.2" y="43.65" text-anchor="end" font-size="10.3">0.01</text>
<path d="M34.8,40.90H40.0" stroke="#000" stroke-width="0.7" fill="none"/>
<text x="59.2" y="75.35" text-anchor="end" font-size="10.3">0.02</text>
<path d="M34.8,72.60H40.0" stroke="#000" stroke-width="0.7" fill="none"/>
<text x="59.2" y="107.05" text-anchor="end" font-size="10.3">0.03</text>
<path d="M34.8,104.30H40.0" stroke="#000" stroke-width="0.7" fill="none"/>
<text x="59.2" y="138.75" text-anchor="end" font-size="10.3">0.04</text>
<path d="M34.8,136.00H40.0" stroke="#000" stroke-width="0.7" fill="none"/>
<text x="59.2" y="170.45" text-anchor="end" font-size="10.3">0.05</text>
<path d="M34.8,167.70H40.0" stroke="#000" stroke-width="0.7" fill="none"/>
<text x="59.2" y="202.15" text-anchor="end" font-size="10.3">0.06</text>
<path d="M34.8,199.40H40.0" stroke="#000" stroke-width="0.7" fill="none"/>
<text x="59.2" y="233.85" text-anchor="end" font-size="10.3">0.07</text>
<path d="M34.8,231.10H40.0" stroke="#000" stroke-width="0.7" fill="none"/>
</g>
<text x="246" y="266.7" font-size="10.5" font-style="italic">t<tspan font-style="normal" font-size="7.6" dy="2.0">0</tspan></text>
<g transform="translate(22.5,132.5) rotate(-90)">
<text x="0.0" y="-1.2" font-size="11.2" font-style="italic">δ</text>
<text x="6.3" y="0" font-size="12.3" font-style="italic">V</text>
<path d="M5.7,-11.9h3.0" stroke="#000" stroke-width="0.7" fill="none"/>
<text x="13.3" y="1.7" font-size="8.6">AdS</text>
</g>
<rect x="321.3" y="82.0" width="86.19999999999999" height="129.5" fill="#fff" stroke="#6c6c6c" stroke-width="1"/>
<text x="364.4" y="98" font-size="17.5" text-anchor="middle">R=2</text>
<text transform="translate(355.2,116.30) scale(1.27,1)" font-size="10.7" font-style="italic">β</text>
<text transform="translate(361.45,116.30) scale(1.12,1)" font-size="10.7">=</text>
<text x="368.1" y="116.30" font-size="10.7">0.01</text>
<text transform="translate(355.2,137.60) scale(1.27,1)" font-size="10.7" font-style="italic">β</text>
<text transform="translate(361.45,137.60) scale(1.12,1)" font-size="10.7">=</text>
<text x="368.1" y="137.60" font-size="10.7">0.1</text>
<text transform="translate(355.2,159.40) scale(1.27,1)" font-size="10.7" font-style="italic">β</text>
<text transform="translate(361.45,159.40) scale(1.12,1)" font-size="10.7">=</text>
<text x="368.1" y="159.40" font-size="10.7">0.5</text>
<text transform="translate(355.2,180.90) scale(1.27,1)" font-size="10.7" font-style="italic">β</text>
<text transform="translate(361.45,180.90) scale(1.12,1)" font-size="10.7">=</text>
<text x="368.1" y="180.90" font-size="10.7">1</text>
<text transform="translate(355.2,202.30) scale(1.27,1)" font-size="10.7" font-style="italic">β</text>
<text transform="translate(361.45,202.30) scale(1.12,1)" font-size="10.7">=</text>
<text x="368.1" y="202.30" font-size="10.7">1.5</text>
<g fill="none" stroke-linecap="butt">
<path d="M325.3,112.9H345.8" stroke="#00ff00" stroke-width="2.6" stroke-dasharray="2.9 1.45"/>
<path d="M325.3,134.2H343.4" stroke="#800080" stroke-width="1" stroke-dasharray="6.7 4.4 7 10"/>
<path d="M325.3,156.0H341.4" stroke="#ff0000" stroke-width="2.6" stroke-dasharray="6.7 2.2 7.2 10"/>
<path d="M325.3,177.5H343.7" stroke="#0000ff" stroke-width="2.6" stroke-dasharray="2.4 2.7 7.5 2.3 3.5 10"/>
<path d="M325.3,198.9H345.3" stroke="#ff8000" stroke-width="2.6"/>
</g>
</svg>
</body></html>
